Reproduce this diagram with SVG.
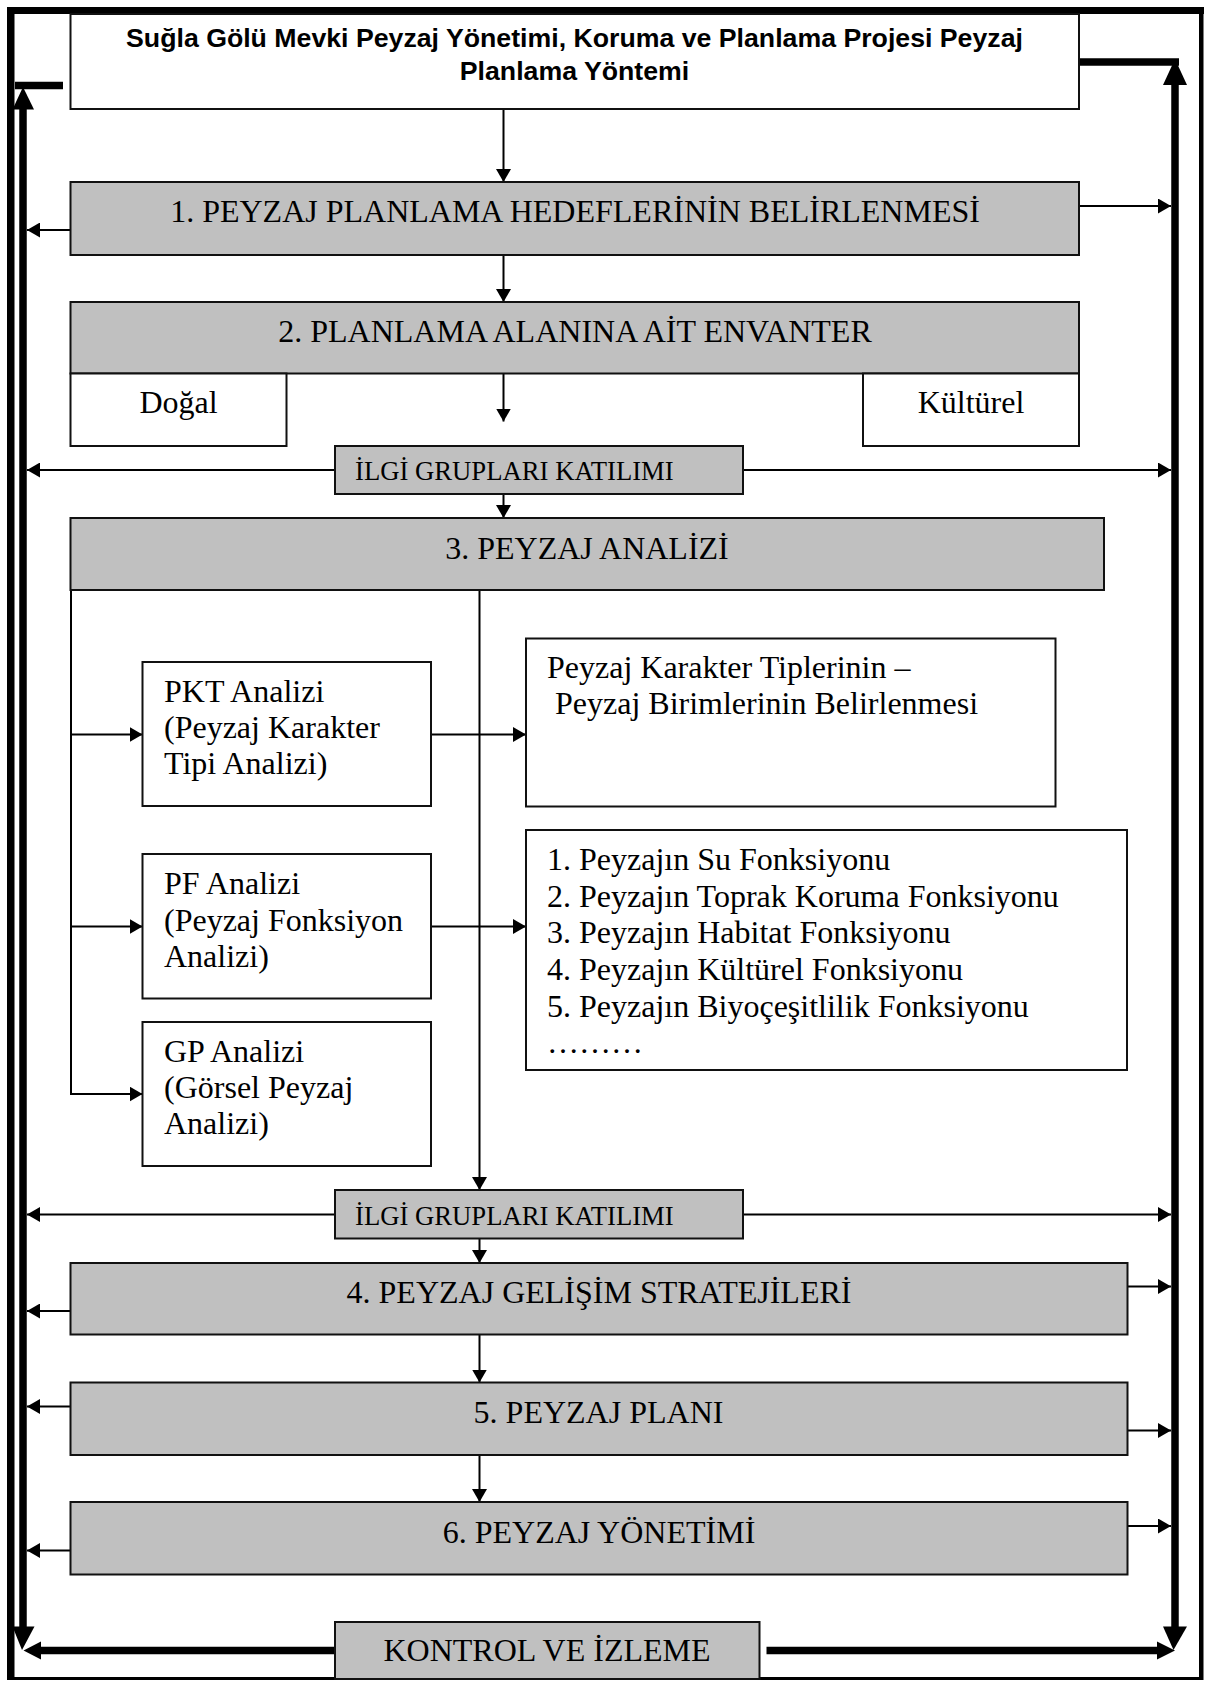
<svg xmlns="http://www.w3.org/2000/svg" width="1205" height="1681" viewBox="0 0 1205 1681">
<style>
.box{stroke:#111;stroke-width:2}
.g{fill:#c0c0c0}
.w{fill:#fff}
.t{font-family:"Liberation Serif","Times New Roman",serif;font-size:32px;fill:#000}
.c{text-anchor:middle}
.s{font-family:"Liberation Serif","Times New Roman",serif;font-size:26.7px;fill:#000}
.h{font-family:"Liberation Sans",Arial,sans-serif;font-size:26.7px;font-weight:bold;fill:#000;text-anchor:middle}
.ln{stroke:#000;stroke-width:2;fill:none}
.thick{stroke:#000;stroke-width:7.5;fill:none}
.ah{fill:#000}
</style>
<defs>
<marker id="arr" markerUnits="userSpaceOnUse" markerWidth="13" markerHeight="15" refX="13" refY="7.5" orient="auto" viewBox="0 0 13 15">
<path d="M0,0 L13,7.5 L0,15 z" fill="#000"/>
</marker>
</defs>
<rect width="1205" height="1681" fill="#fff"/>
<g id="frame">
<rect x="7" y="7" width="1197" height="7" fill="#000"/>
<rect x="7" y="7" width="7.5" height="1673" fill="#000"/>
<rect x="1199" y="7" width="4.5" height="1673" fill="#000"/>
<rect x="7" y="1677" width="1196" height="3" fill="#000"/>
</g>
<g id="connectors">
<line class="thick" x1="23" y1="105" x2="23" y2="1630"/>
<line class="thick" x1="1175" y1="82" x2="1175" y2="1630"/>
<line class="thick" x1="15" y1="85.5" x2="63" y2="85.5"/>
<line class="thick" x1="1079" y1="62" x2="1179" y2="62"/>
<polygon class="ah" points="23,87 34,109.5 12.5,109.5"/>
<polygon class="ah" points="1175,59 1187,85 1163,85"/>
<polygon class="ah" points="22,1650 34.5,1626.5 12.5,1626.5"/>
<polygon class="ah" points="1173.5,1650 1187,1626.5 1163,1626.5"/>
<line class="thick" x1="38" y1="1650.5" x2="335" y2="1650.5"/>
<polygon class="ah" points="23.5,1650.5 41,1641.5 41,1659.5"/>
<line class="thick" x1="766.5" y1="1650.5" x2="1159" y2="1650.5"/>
<polygon class="ah" points="1175,1650.5 1157,1641.5 1157,1659.5"/>
<line class="ln" x1="503.5" y1="109" x2="503.5" y2="182" marker-end="url(#arr)"/>
<line class="ln" x1="503.5" y1="255" x2="503.5" y2="302" marker-end="url(#arr)"/>
<line class="ln" x1="503.5" y1="373.5" x2="503.5" y2="421.5" marker-end="url(#arr)"/>
<line class="ln" x1="503.5" y1="494" x2="503.5" y2="518" marker-end="url(#arr)"/>
<line class="ln" x1="70.5" y1="230" x2="27" y2="230" marker-end="url(#arr)"/>
<line class="ln" x1="1079" y1="206" x2="1171" y2="206" marker-end="url(#arr)"/>
<line class="ln" x1="335" y1="470" x2="27" y2="470" marker-end="url(#arr)"/>
<line class="ln" x1="743" y1="470" x2="1171" y2="470" marker-end="url(#arr)"/>
<polyline class="ln" points="71,590 71,1094"/>
<line class="ln" x1="71" y1="734.5" x2="142.5" y2="734.5" marker-end="url(#arr)"/>
<line class="ln" x1="71" y1="926.5" x2="142.5" y2="926.5" marker-end="url(#arr)"/>
<line class="ln" x1="70" y1="1094" x2="142.5" y2="1094" marker-end="url(#arr)"/>
<line class="ln" x1="479.5" y1="590" x2="479.5" y2="1190" marker-end="url(#arr)"/>
<line class="ln" x1="431" y1="734.5" x2="526" y2="734.5" marker-end="url(#arr)"/>
<line class="ln" x1="431" y1="926.5" x2="526" y2="926.5" marker-end="url(#arr)"/>
<line class="ln" x1="335" y1="1214.5" x2="27" y2="1214.5" marker-end="url(#arr)"/>
<line class="ln" x1="743" y1="1214.5" x2="1171" y2="1214.5" marker-end="url(#arr)"/>
<line class="ln" x1="479.5" y1="1238.5" x2="479.5" y2="1263" marker-end="url(#arr)"/>
<line class="ln" x1="479.5" y1="1334.5" x2="479.5" y2="1382.5" marker-end="url(#arr)"/>
<line class="ln" x1="479.5" y1="1455" x2="479.5" y2="1502" marker-end="url(#arr)"/>
<line class="ln" x1="1127.5" y1="1286.5" x2="1171" y2="1286.5" marker-end="url(#arr)"/>
<line class="ln" x1="70.5" y1="1311" x2="27" y2="1311" marker-end="url(#arr)"/>
<line class="ln" x1="70.5" y1="1406.5" x2="27" y2="1406.5" marker-end="url(#arr)"/>
<line class="ln" x1="1127.5" y1="1430.5" x2="1171" y2="1430.5" marker-end="url(#arr)"/>
<line class="ln" x1="1127.5" y1="1526" x2="1171" y2="1526" marker-end="url(#arr)"/>
<line class="ln" x1="70.5" y1="1550.5" x2="27" y2="1550.5" marker-end="url(#arr)"/>
</g>
<g id="header">
<rect class="box w" x="70.5" y="14" width="1008.5" height="95"/>
<text class="h" x="574.5" y="46.5">Suğla Gölü Mevki Peyzaj Yönetimi, Koruma ve Planlama Projesi Peyzaj</text>
<text class="h" x="574.5" y="79.5">Planlama Yöntemi</text>
</g>
<g id="step1">
<rect class="box g" x="70.5" y="182" width="1008.5" height="73"/>
<text class="t c" x="575" y="222">1. PEYZAJ PLANLAMA HEDEFLERİNİN BELİRLENMESİ</text>
</g>
<g id="step2">
<rect class="box g" x="70.5" y="302" width="1008.5" height="71.5"/>
<text class="t c" x="575" y="342">2. PLANLAMA ALANINA AİT ENVANTER</text>
</g>
<g id="dogal">
<rect class="box w" x="70.5" y="373.5" width="216" height="72.5"/>
<text class="t c" x="178.5" y="413">Doğal</text>
</g>
<g id="kulturel">
<rect class="box w" x="863" y="373.5" width="216" height="72.5"/>
<text class="t c" x="971" y="413">Kültürel</text>
</g>
<g id="ilgi1">
<rect class="box g" x="335" y="446" width="408" height="48"/>
<text class="s" x="355" y="480">İLGİ GRUPLARI KATILIMI</text>
</g>
<g id="step3">
<rect class="box g" x="70.5" y="518" width="1033.5" height="72"/>
<text class="t c" x="587" y="559">3. PEYZAJ ANALİZİ</text>
</g>
<g id="pkt">
<rect class="box w" x="142.5" y="662" width="288.5" height="144"/>
<text class="t" x="164" y="702">PKT Analizi</text>
<text class="t" x="164" y="738">(Peyzaj Karakter</text>
<text class="t" x="164" y="774">Tipi Analizi)</text>
</g>
<g id="pkb">
<rect class="box w" x="526" y="638.5" width="529.5" height="168"/>
<text class="t" x="547" y="677.5">Peyzaj Karakter Tiplerinin –</text>
<text class="t" x="555" y="714">Peyzaj Birimlerinin Belirlenmesi</text>
</g>
<g id="pf">
<rect class="box w" x="142.5" y="854" width="288.5" height="144.5"/>
<text class="t" x="164" y="893.5">PF Analizi</text>
<text class="t" x="164" y="930.5">(Peyzaj Fonksiyon</text>
<text class="t" x="164" y="966.5">Analizi)</text>
</g>
<g id="functions">
<rect class="box w" x="526" y="830" width="601" height="240"/>
<text class="t" x="547" y="870">1. Peyzajın Su Fonksiyonu</text>
<text class="t" x="547" y="906.5">2. Peyzajın Toprak Koruma Fonksiyonu</text>
<text class="t" x="547" y="943">3. Peyzajın Habitat Fonksiyonu</text>
<text class="t" x="547" y="980">4. Peyzajın Kültürel Fonksiyonu</text>
<text class="t" x="547" y="1016.5">5. Peyzajın Biyoçeşitlilik Fonksiyonu</text>
<text class="t" x="547" y="1053">………</text>
</g>
<g id="gp">
<rect class="box w" x="142.5" y="1022" width="288.5" height="144"/>
<text class="t" x="164" y="1062">GP Analizi</text>
<text class="t" x="164" y="1098">(Görsel Peyzaj</text>
<text class="t" x="164" y="1134">Analizi)</text>
</g>
<g id="ilgi2">
<rect class="box g" x="335" y="1190" width="408" height="48.5"/>
<text class="s" x="355" y="1224.5">İLGİ GRUPLARI KATILIMI</text>
</g>
<g id="step4">
<rect class="box g" x="70.5" y="1263" width="1057" height="71.5"/>
<text class="t c" x="599" y="1302.5">4. PEYZAJ GELİŞİM STRATEJİLERİ</text>
</g>
<g id="step5">
<rect class="box g" x="70.5" y="1382.5" width="1057" height="72.5"/>
<text class="t c" x="598.5" y="1423">5. PEYZAJ PLANI</text>
</g>
<g id="step6">
<rect class="box g" x="70.5" y="1502" width="1057" height="72.5"/>
<text class="t c" x="599" y="1543">6. PEYZAJ YÖNETİMİ</text>
</g>
<g id="kontrol">
<rect class="box g" x="335" y="1622" width="424.5" height="57"/>
<text class="t c" x="547" y="1661">KONTROL VE İZLEME</text>
</g>
</svg>
